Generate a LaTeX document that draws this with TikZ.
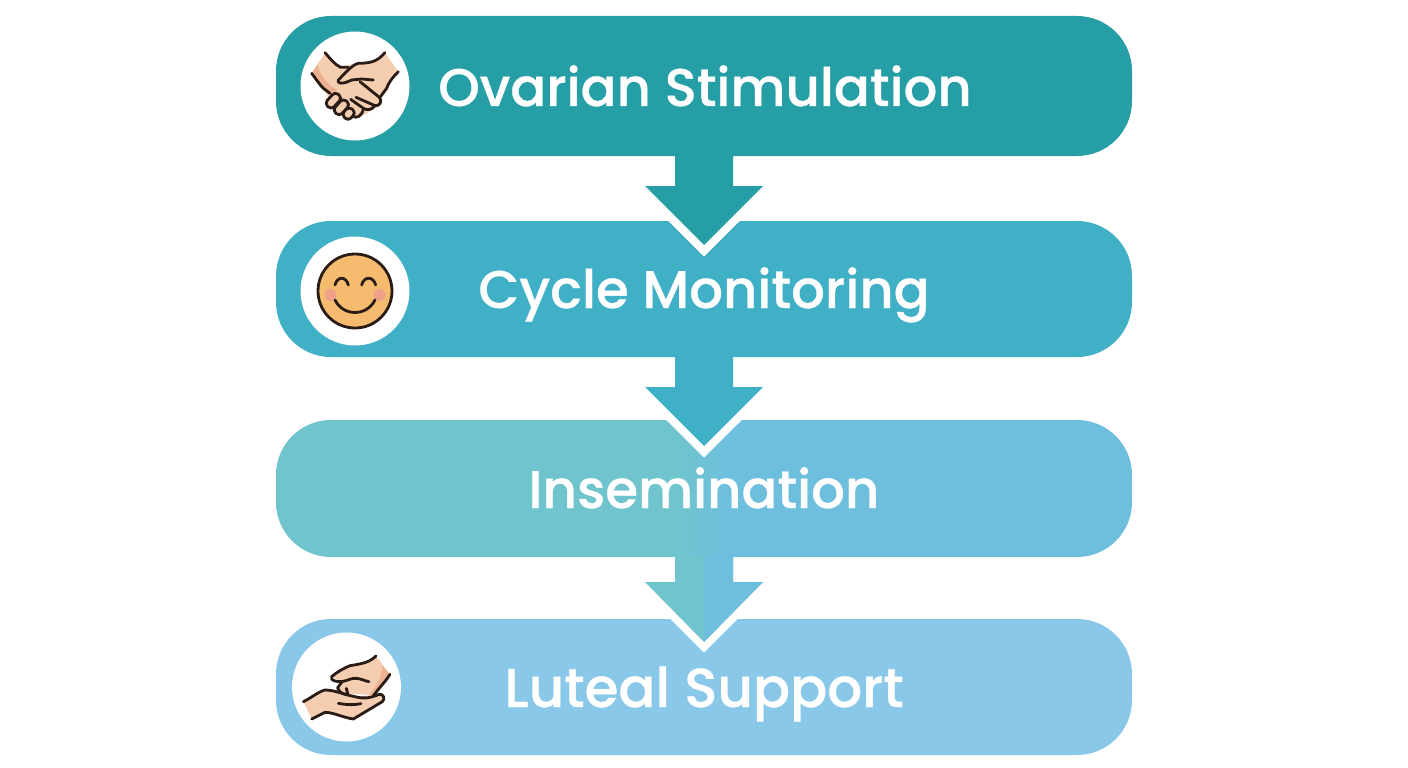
\documentclass[tikz,border=0pt]{standalone}
\usepackage{fontspec}
\newfontfamily\labfont[FakeBold=0.6]{Poppins Medium}
\definecolor{cA}{HTML}{259FA5}
\definecolor{cB}{HTML}{40B0C6}
\definecolor{cCl}{HTML}{70C4CE}
\definecolor{cCr}{HTML}{6EBFDE}
\definecolor{cD}{HTML}{8AC8EA}
\definecolor{skin}{HTML}{F5CDB0}
\definecolor{skinD}{HTML}{EBB292}
\definecolor{ink}{HTML}{2A1C14}
\definecolor{face}{HTML}{F5BC70}
\definecolor{cheek}{HTML}{F0A088}
\pgfdeclarehorizontalshading{splitC}{100bp}{color(0bp)=(cCl); color(48.5bp)=(cCl); color(51.5bp)=(cCr); color(100bp)=(cCr)}
\tikzset{
  x=1pt,y=-1pt,
  stage/.style={rounded corners=55pt,minimum width=856pt,inner sep=0pt,outer sep=0pt},
  stagetext/.style={text=white,anchor=base,font=\labfont\fontsize{53}{53}\selectfont},
  disc/.style={circle,fill=white,minimum size=109pt,inner sep=0pt},
  inkline/.style={draw=ink,line width=2.8pt,line cap=round,line join=round},
}
\begin{document}
\begin{tikzpicture}
\useasboundingbox (0,0) rectangle (1408,768);
\fill[white] (0,0) rectangle (1408,768);
% stages
\node[stage,fill=cA,minimum height=140pt] (s1) at (704,86) {};
\node[stage,fill=cB,minimum height=136pt] (s2) at (704,289) {};
\node[stage,shading=splitC,minimum height=137pt] (s3) at (704,488.5) {};
\node[stage,fill=cD,minimum height=136pt] (s4) at (704,687) {};
\coordinate (aL) at (675,0);
\coordinate (aM) at (704,0);
\coordinate (aR) at (733,0);
% white gaps behind arrow heads
\foreach \wy in {186,387,582}{
  \fill[white] (633,\wy) -- (704,\wy+70.5) -- (775,\wy) -- cycle;
}
% arrows
\fill[cA] (s1.south -| aL) -- (675,186) -- (645,186) -- (704,245) -- (763,186) -- (733,186) -- (s1.south -| aR) -- cycle;
\fill[cB] (s2.south -| aL) -- (675,387) -- (645,387) -- (704,446) -- (763,387) -- (733,387) -- (s2.south -| aR) -- cycle;
\fill[cCl] (s3.south -| aL) -- (675,582) -- (645,582) -- (704,642) -- (763,582) -- (733,582) -- (s3.south -| aR) -- cycle;
\fill[cCr] (s3.south -| aM) -- (704,642) -- (763,582) -- (733,582) -- (s3.south -| aR) -- cycle;
% labels
\node[stagetext] (t1) at (705,106) {Ovarian Stimulation};
\node[stagetext] (t2) at (704,308) {Cycle Monitoring};
\node[stagetext] (t3) at (704,508) {Insemination};
\node[stagetext,font=\labfont\fontsize{54.8}{54.8}\selectfont] (t4) at (704,707) {Luteal Support};
% icon discs
\node[disc] (d1) at (355,86) {};
\node[disc] (d2) at (355,291) {};
\node[disc] (d4) at (346.5,687) {};
% handshake
\begin{scope}[shift={(280,10)},x=0.3333pt,y=-0.3333pt]
  \fill[skin] (135,128) -- (180,170) -- (235,160) .. controls (280,160) and (295,150) .. (315,128)
     -- (355,185) .. controls (330,215) and (320,235) .. (300,262) -- (296,288) -- (240,322) -- (150,270) -- (130,235) -- (95,190) -- cycle;
  \fill[skinD] (95,190) -- (112,165) .. controls (125,205) and (150,230) .. (172,240) -- (148,252) -- (130,235) -- cycle;
  \draw[inkline] (135,128) .. controls (150,145) and (165,165) .. (182,172) -- (205,172);
  \draw[inkline,fill=skin] (315,128) .. controls (295,150) and (280,160) .. (235,160) .. controls (215,165) and (195,190) .. (175,210) .. controls (170,220) and (185,225) .. (215,210) -- (245,207) -- (280,210);
  \draw[inkline] (95,190) .. controls (110,210) and (120,225) .. (130,235) -- (150,250);
  \draw[inkline] (355,185) .. controls (335,205) and (325,220) .. (320,235) -- (300,262);
  \draw[inkline] (240,215) -- (298,262) .. controls (308,272) and (300,290) .. (285,287) -- (228,262);
  \draw[inkline] (285,287) .. controls (275,300) and (262,302) .. (250,295) -- (212,268);
  \draw[inkline,fill=skin] (250,295) .. controls (248,318) and (228,328) .. (218,318) -- (205,300);
  \foreach \cx/\cy/\hl in {160/272/24,184/292/24,206/311/17}{
    \draw[inkline,fill=skin,rounded corners=4pt,rotate around={48:(\cx,\cy)}] (\cx-\hl,\cy-14) rectangle (\cx+\hl,\cy+14);
  }
\end{scope}
% smiley
\node[circle,draw=ink,line width=2.8pt,fill=face,minimum size=74pt,inner sep=0pt] (f) at (355,291) {};
\begin{scope}[shift={(280,225)},x=0.3333pt,y=-0.3333pt]
  \fill[cheek] (152,210) circle[radius=6pt];
  \fill[cheek] (298,210) circle[radius=6pt];
  \draw[inkline] (165,180) .. controls (172,153) and (198,153) .. (205,180);
  \draw[inkline] (245,180) .. controls (252,153) and (280,153) .. (287,180);
  \draw[inkline] (165,225) .. controls (190,275) and (260,275) .. (285,225);
\end{scope}
% giving hands
\begin{scope}[shift={(275,625)},x=0.3333pt,y=-0.3333pt]
  \fill[skin] (303,93) .. controls (285,110) and (270,115) .. (225,122) -- (170,155) -- (200,170) -- (185,190) -- (205,205) -- (295,210) .. controls (320,180) and (335,165) .. (345,148) -- cycle;
  \fill[skinD] (345,148) -- (322,122) .. controls (322,160) and (300,190) .. (280,212) -- (296,210) .. controls (320,180) and (335,165) .. (345,148) -- cycle;
  \fill[skin] (85,230) -- (150,195) -- (185,200) -- (240,215) -- (320,208) -- (327,225) -- (235,282) -- (150,262) -- (110,282) -- cycle;
  \draw[inkline] (303,93) .. controls (285,110) and (270,115) .. (225,122) .. controls (205,130) and (185,142) .. (170,155) .. controls (165,168) and (185,170) .. (200,170) .. controls (215,168) and (230,158) .. (245,160) .. controls (260,162) and (270,168) .. (282,170);
  \draw[inkline] (345,148) .. controls (335,165) and (320,180) .. (295,212);
  \draw[inkline] (200,172) -- (188,188) .. controls (190,198) and (200,205) .. (210,208);
  \draw[inkline] (214,190) -- (218,206);
  \draw[inkline] (85,230) .. controls (110,218) and (130,200) .. (150,195) .. controls (180,195) and (210,210) .. (240,215) .. controls (265,222) and (285,220) .. (312,208) .. controls (325,205) and (332,222) .. (322,230) -- (235,282) .. controls (205,278) and (175,262) .. (150,262) -- (110,282);
  \draw[inkline] (190,235) .. controls (215,240) and (240,240) .. (258,236);
\end{scope}
\end{tikzpicture}
\end{document}
